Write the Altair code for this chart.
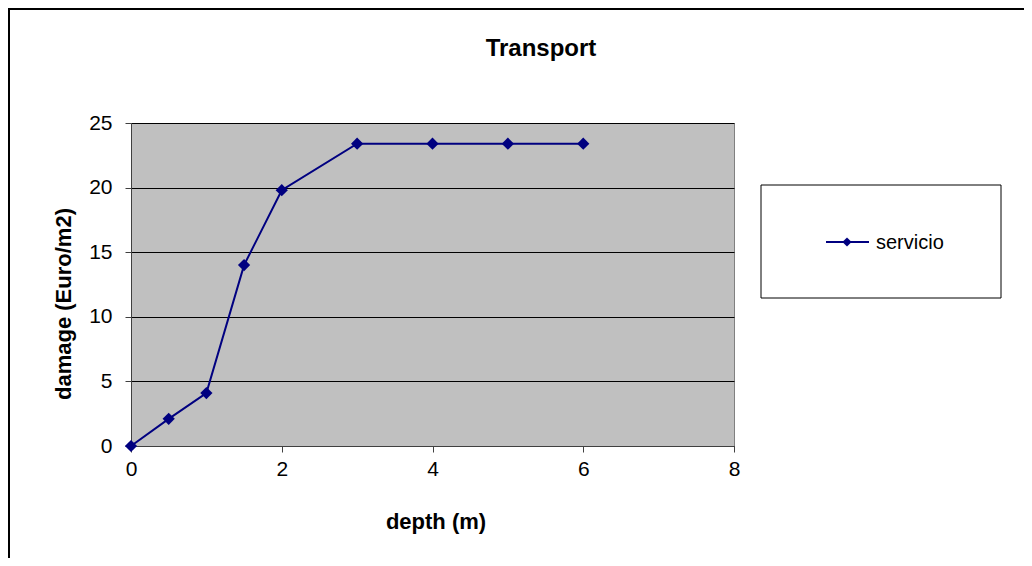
import altair as alt
import pandas as pd

depth = [0, 0.5, 1, 1.5, 2, 3, 4, 5, 6]
damage = [0, 2.1, 4.1, 14.0, 19.8, 23.4, 23.4, 23.4, 23.4]
series_name = "servicio"
x_ticks = [0, 2, 4, 6, 8]
y_ticks = [0, 5, 10, 15, 20, 25]

df = pd.DataFrame({"depth": depth, "damage": damage})

FONT = "Liberation Sans"
NAVY = "#000080"

x_enc = alt.X("depth:Q", scale=alt.Scale(domain=[0, 8], nice=False),
              axis=alt.Axis(values=x_ticks, format="d", title=None, grid=False, tickSize=6,
                            labelPadding=6, labelFontSize=21, labelColor="black", labelFlush=False,
                            domainColor="#404040", tickColor="#404040", labelFont=FONT))
y_enc = alt.Y("damage:Q", scale=alt.Scale(domain=[0, 25], nice=False),
              axis=alt.Axis(values=y_ticks, format="d", title=None, grid=True, gridColor="black",
                            gridOpacity=1, gridWidth=1, tickSize=6, labelPadding=13, labelFlush=False,
                            labelFontSize=21, labelColor="black", domainColor="#404040",
                            tickColor="#404040", labelFont=FONT))

line = alt.Chart(df).mark_line(color=NAVY, strokeWidth=2).encode(x=x_enc, y=y_enc)
pts = alt.Chart(df).mark_point(shape="diamond", filled=True, color=NAVY, size=150, opacity=1).encode(
    x="depth:Q", y="damage:Q")

# origin of plot area = page (131, 123)
ox, oy = 131, 123

def txt(s, x, y, size, bold=False, angle=0, align="center"):
    return alt.Chart(pd.DataFrame({"t": [s]})).mark_text(
        font=FONT, fontSize=size, fontWeight="bold" if bold else "normal",
        color="black", angle=angle, align=align, baseline="alphabetic").encode(
        text="t:N", x=alt.value(x - ox), y=alt.value(y - oy))

title = txt("Transport", 541, 56, 24, bold=True)
xtitle = txt("depth (m)", 436, 529, 22, bold=True)
ytitle = txt("damage (Euro/m2)", 71, 304, 22, bold=True, angle=270)

legend_box = alt.Chart(pd.DataFrame({"a": [0]})).mark_rect(
    fill="white", stroke="black", strokeWidth=1).encode(
    x=alt.value(761 - ox), x2=alt.value(1001 - ox), y=alt.value(185 - oy), y2=alt.value(298 - oy))
legend_line = alt.Chart(pd.DataFrame({"a": [0]})).mark_rule(color=NAVY, strokeWidth=2).encode(
    x=alt.value(826 - ox), x2=alt.value(869 - ox), y=alt.value(242 - oy))
legend_pt = alt.Chart(pd.DataFrame({"a": [0]})).mark_point(
    shape="diamond", filled=True, color=NAVY, size=85, opacity=1).encode(
    x=alt.value(847 - ox), y=alt.value(242 - oy))
legend_txt = txt(series_name, 876, 249, 20, align="left")

frame_top = alt.Chart(pd.DataFrame({"a": [0]})).mark_rule(color="black", strokeWidth=2).encode(
    x=alt.value(8 - ox), x2=alt.value(1040 - ox), y=alt.value(9 - oy))
frame_left = alt.Chart(pd.DataFrame({"a": [0]})).mark_rule(color="black", strokeWidth=2).encode(
    x=alt.value(9 - ox), y=alt.value(9 - oy), y2=alt.value(570 - oy))

chart = alt.layer(
    line, pts, title, xtitle, ytitle, legend_box, legend_line, legend_pt, legend_txt,
    frame_top, frame_left
).properties(
    width=603, height=323,
    padding={"left": 123, "top": 115, "right": 290, "bottom": 112},
    autosize=alt.AutoSizeParams(type="none"),
    background="white",
).configure_view(
    fill="#C0C0C0", stroke="#808080", strokeWidth=1
)

chart.save("out.html", embed_options={"renderer": "svg", "actions": False})
